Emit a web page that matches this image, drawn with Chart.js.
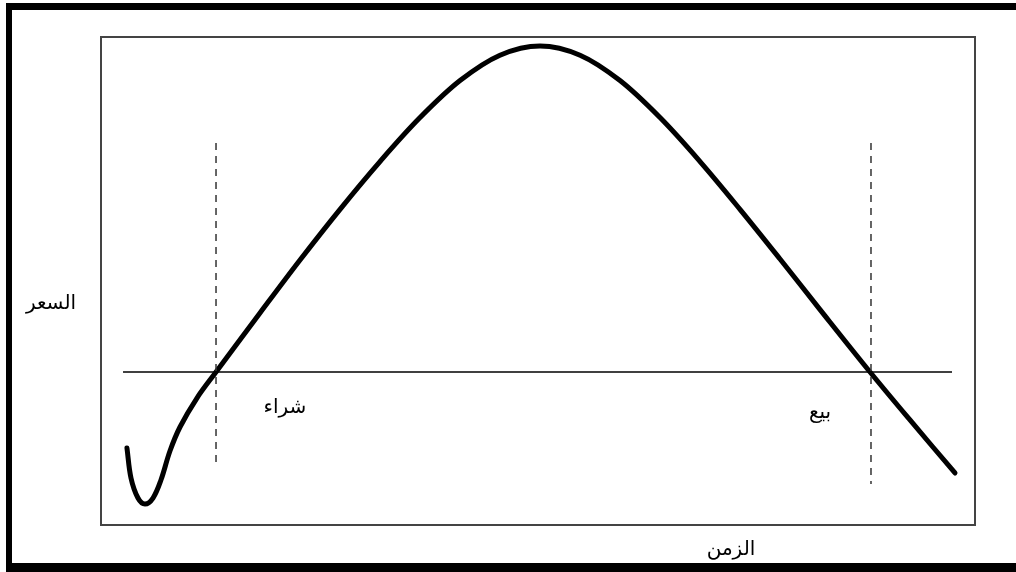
<!DOCTYPE html>
<html lang="ar">
<head>
<meta charset="utf-8">
<script src="https://cdn.jsdelivr.net/npm/chart.js@4.4.1/dist/chart.umd.min.js"></script>
<style>
    html, body { margin: 0; padding: 0; background: #fff; overflow: hidden; }
    #wrap { position: relative; width: 1016px; height: 572px; }
    #frame {
        position: absolute; left: 6px; top: 3px; width: 1040px; height: 569px;
        box-sizing: border-box; border: solid #000;
        border-width: 7px 0 9px 6px;
    }
    canvas { position: absolute; left: 0; top: 0; }
</style>
</head>
<body>
<div id="wrap">
    <div id="frame"></div>
    <canvas id="chart" width="1016" height="572"></canvas>
</div>
<script>
// price curve (time 0..100, price 0..100)
const curveX = [2.97, 3.43, 4.23, 5.03, 5.95, 6.86, 7.89, 9.04, 10.98, 13.16, 18.19, 22.77, 27.35, 31.92, 36.50, 41.08, 45.65, 50.23, 54.81, 59.38, 63.96, 68.54, 73.11, 77.69, 82.27, 87.99, 92.56, 97.71];
const curveY = [15.78, 9.63, 5.53, 4.30, 5.53, 9.22, 15.16, 20.08, 26.02, 31.35, 43.44, 54.30, 64.69, 74.47, 83.48, 91.07, 96.27, 98.16, 96.27, 91.07, 83.48, 74.47, 64.69, 54.51, 44.14, 31.35, 21.52, 10.66];

// reference level
const levelY = 31.35;
const levelX = [2.52, 97.37];

// buy / sell markers
const buyX = 13.16;
const buyY = [78.28, 12.70];
const sellX = 88.10;
const sellY = [78.28, 8.40];

// labels
const labelTexts = ["شراء", "بيع", "السعر", "الزمن"];
const labelX = [21.05, 82.27, -5.72, 72.08];
const labelY = [24.0, 23.0, 45.29, -5.12];

const toPoints = (xs, ys) => xs.map((x, i) => ({ x, y: ys[i] }));

const frameBox = {
    id: "frameBox",
    beforeDatasetsDraw(chart) {
        const { ctx, chartArea } = chart;
        ctx.save();
        ctx.strokeStyle = "#444";
        ctx.lineWidth = 2;
        ctx.strokeRect(chartArea.left, chartArea.top,
            chartArea.right - chartArea.left, chartArea.bottom - chartArea.top);
        ctx.restore();
    },
};

const textLabels = {
    id: "textLabels",
    afterDatasetsDraw(chart) {
        const { ctx, scales } = chart;
        ctx.save();
        ctx.fillStyle = "#000";
        ctx.font = "20px 'DejaVu Sans'";
        ctx.textAlign = "center";
        ctx.textBaseline = "middle";
        ctx.direction = "rtl";
        labelTexts.forEach((t, i) => {
            ctx.fillText(t, scales.x.getPixelForValue(labelX[i]),
                scales.y.getPixelForValue(labelY[i]));
        });
        ctx.restore();
    },
};

new Chart(document.getElementById("chart"), {
    type: "scatter",
    data: {
        datasets: [
            {
                data: toPoints(levelX, [levelY, levelY]),
                showLine: true,
                borderColor: "#000",
                borderWidth: 1.5,
                pointRadius: 0,
            },
            {
                data: toPoints([buyX, buyX], buyY),
                showLine: true,
                borderColor: "#333",
                borderWidth: 1.5,
                borderDash: [7, 6],
                pointRadius: 0,
            },
            {
                data: toPoints([sellX, sellX], sellY),
                showLine: true,
                borderColor: "#333",
                borderWidth: 1.5,
                borderDash: [7, 6],
                pointRadius: 0,
            },
            {
                data: toPoints(curveX, curveY),
                showLine: true,
                borderColor: "#000",
                borderWidth: 5,
                borderCapStyle: "round",
                borderJoinStyle: "round",
                tension: 0.35,
                pointRadius: 0,
            },
        ],
    },
    options: {
        responsive: false,
        animation: false,
        layout: {
            padding: { left: 101, top: 37, right: 41, bottom: 47 },
        },
        scales: {
            x: { type: "linear", min: 0, max: 100, display: false },
            y: { type: "linear", min: 0, max: 100, display: false },
        },
        plugins: {
            legend: { display: false },
            tooltip: { enabled: false },
        },
        datasets: { scatter: { clip: false } },
    },
    plugins: [frameBox, textLabels],
});
</script>
</body>
</html>
